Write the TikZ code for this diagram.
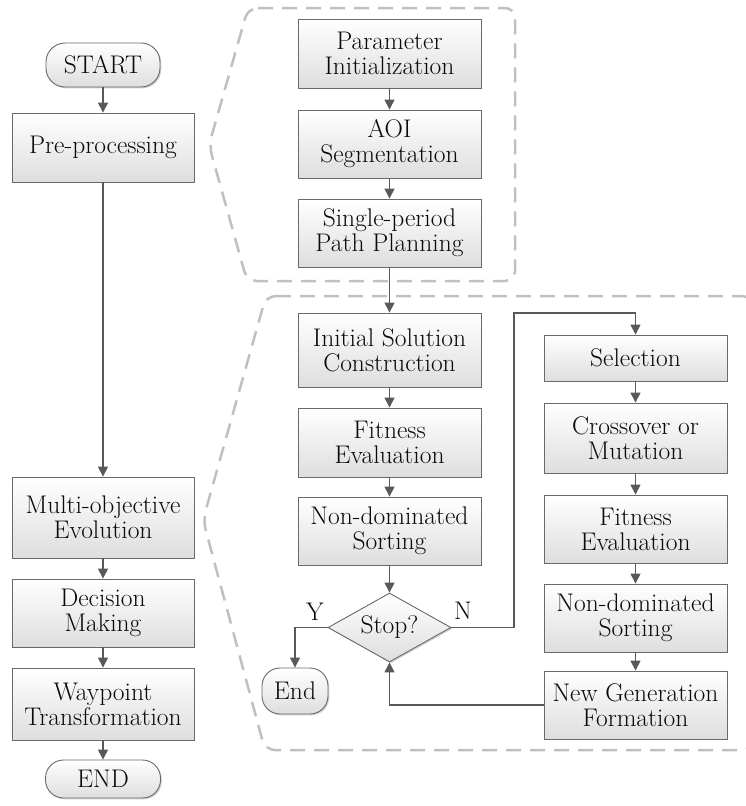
\documentclass[tikz,border=0pt]{standalone}
\usetikzlibrary{arrows.meta,shapes.geometric,shadows}
\definecolor{linec}{RGB}{89,89,89}
\definecolor{boxline}{RGB}{105,105,105}
\definecolor{dashc}{RGB}{192,192,192}
\definecolor{txt}{RGB}{10,10,10}
\begin{document}
\begin{tikzpicture}[x=1pt,y=-1pt,
  font=\fontsize{25.5}{25}\selectfont,
  box/.style={draw=boxline, line width=0.9pt, top color=white, bottom color=black!13,
    text=txt, align=center, inner sep=0pt,
    drop shadow={shadow xshift=1.3pt, shadow yshift=-1.3pt, fill=black, opacity=0.18}},
  pill/.style={box, rounded corners=#1},
  arr/.style={draw=linec, line width=1.4pt, -{Triangle[length=10pt,width=10pt]}},
  callout/.style={draw=dashc, line width=2.5pt, dash pattern=on 15pt off 9pt, rounded corners=10pt},
  lbl/.style={text=txt, inner sep=0pt}
]
\useasboundingbox (0,0) rectangle (746,806);

% dashed callouts
\draw[callout] (248,8) -- (515,8) -- (515,281) -- (247,281) -- (209,145) -- cycle;
\draw[callout] (266,296) -- (752,296) -- (752,750) -- (265,750) -- (203,520) -- cycle;

% left column
\node[pill=19pt, minimum width=114pt, minimum height=44pt] (start) at (103,65) {START};
\node[box, minimum width=182pt, minimum height=69pt] (pre) at (103,147.5) {Pre-processing};
\node[box, minimum width=182pt, minimum height=81pt] (moe) at (103,517.5) {Multi-objective\\Evolution};
\node[box, minimum width=182pt, minimum height=68pt] (dec) at (103,613) {Decision\\Making};
\node[box, minimum width=182pt, minimum height=72pt] (way) at (103,704) {Waypoint\\Transformation};
\node[pill=18pt, minimum width=115pt, minimum height=38pt] (endall) at (103,779) {END};

% top callout content
\node[box, minimum width=183pt, minimum height=69pt] (param) at (389.5,53.5) {Parameter\\Initialization};
\node[box, minimum width=183pt, minimum height=68pt] (aoi) at (389.5,144) {AOI\\Segmentation};
\node[box, minimum width=183pt, minimum height=68pt] (single) at (389.5,233) {Single-period\\Path Planning};

% bottom callout content, middle column
\node[box, minimum width=183pt, minimum height=74pt] (init) at (389.5,350) {Initial Solution\\Construction};
\node[box, minimum width=183pt, minimum height=69pt] (fitA) at (389.5,442.5) {Fitness\\Evaluation};
\node[box, minimum width=183pt, minimum height=68pt] (ndsA) at (389.5,531) {Non-dominated\\Sorting};
\node[box, diamond, aspect=1.78, minimum width=123pt, minimum height=69pt] (dia) at (389.5,627.5) {Stop?};
\node[pill=18pt, minimum width=66pt, minimum height=46pt] (endn) at (295,691) {End};

% right column
\node[box, minimum width=183pt, minimum height=46pt] (sel) at (635.5,358) {Selection};
\node[box, minimum width=183pt, minimum height=70pt] (cross) at (635.5,438) {Crossover or\\Mutation};
\node[box, minimum width=183pt, minimum height=68pt] (fitB) at (635.5,529) {Fitness\\Evaluation};
\node[box, minimum width=183pt, minimum height=68pt] (ndsB) at (635.5,618) {Non-dominated\\Sorting};
\node[box, minimum width=183pt, minimum height=68pt] (newg) at (635.5,705) {New Generation\\Formation};

% labels
\node[lbl] (ylab) at (315,612) {Y};
\node[lbl] (nlab) at (463,611) {N};

\coordinate (nturn) at (514,313);

% connectors
\draw[arr] (start) -- (pre);
\draw[arr] (pre) -- (moe);
\draw[arr] (moe) -- (dec);
\draw[arr] (dec) -- (way);
\draw[arr] (way) -- (endall);

\draw[arr] (param) -- (aoi);
\draw[arr] (aoi) -- (single);
\draw[arr] (single) -- (init);

\draw[arr] (init) -- (fitA);
\draw[arr] (fitA) -- (ndsA);
\draw[arr] (ndsA) -- (dia);
\draw[arr] (dia.west) -| (endn.north);
\draw[arr] (dia.east) -| (nturn) -| (sel.north);

\draw[arr] (sel) -- (cross);
\draw[arr] (cross) -- (fitB);
\draw[arr] (fitB) -- (ndsB);
\draw[arr] (ndsB) -- (newg);
\draw[arr] (newg.west) -| (dia.south);
\end{tikzpicture}
\end{document}
